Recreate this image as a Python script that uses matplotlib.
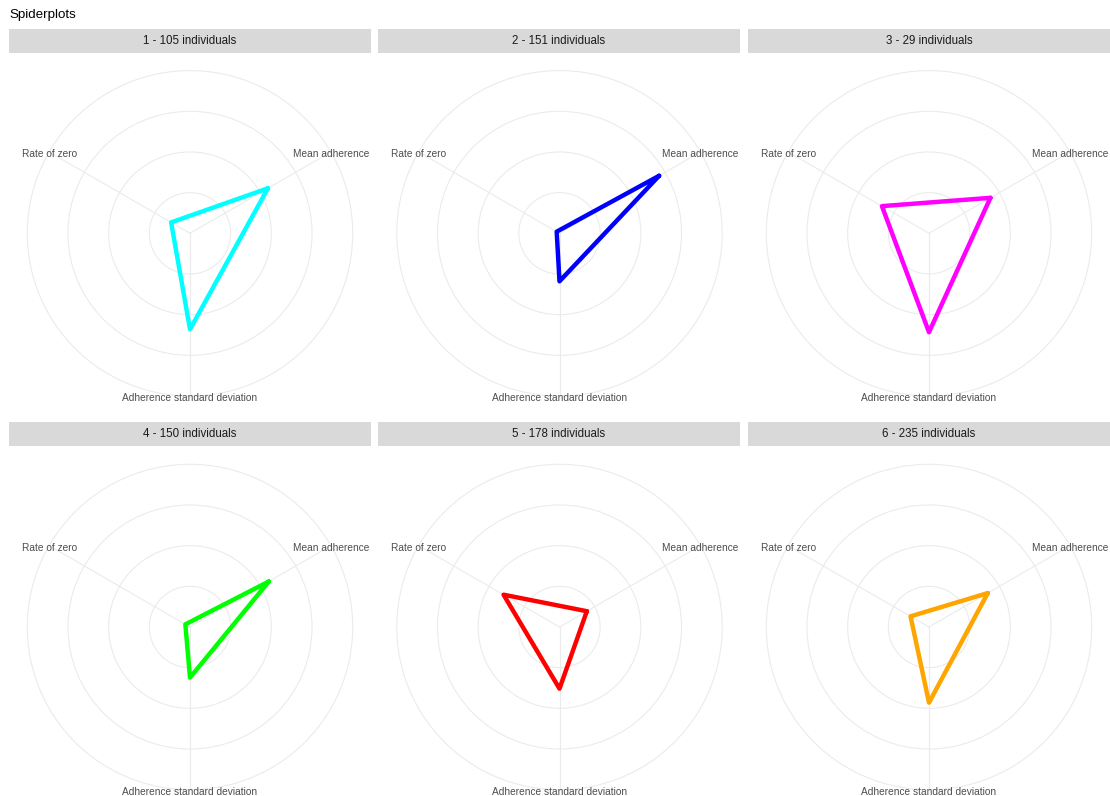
import numpy as np
import matplotlib
matplotlib.use('Agg')
import matplotlib.pyplot as plt
from matplotlib.patches import Rectangle, Circle

plt.rcParams['font.family'] = ['Liberation Sans', 'DejaVu Sans']

# cluster data (radial values as fraction of outer ring)
clusters = ['1', '2', '3', '4', '5', '6']
n_individuals = [105, 151, 29, 150, 178, 235]
variables = ['Mean adherence', 'Rate of zero', 'Adherence standard deviation']
mean_adherence = [0.553, 0.707, 0.436, 0.559, 0.194, 0.417]
rate_of_zero = [0.134, 0.020, 0.334, 0.033, 0.397, 0.131]
adherence_sd = [0.590, 0.295, 0.608, 0.311, 0.379, 0.465]
colors = ['#00FFFF', '#0000FF', '#FF00FF', '#00FF00', '#FF0000', '#FFA500']
rings = [0.25, 0.5, 0.75, 1.0]

W, H = 1110, 796
fig = plt.figure(figsize=(W / 100, H / 100), dpi=100)

angles = np.deg2rad([30, 150, 270])
R = 162.7  # px for outer ring

strip_x = [9, 378, 748]
strip_w = 362
strip_top = [29, 422]
strip_h = 23.5
centers_x = [190, 559.5, 929]
centers_y = [233.3, 627.0]


def fx(px):
    return px / W


def fy(py):
    return 1 - py / H


fig.text(fx(9), fy(15), 'Spiderplots', fontsize=9.6, color='black', ha='left', va='center')

for k in range(6):
    row, col = divmod(k, 3)
    x0 = strip_x[col]
    y0 = strip_top[row]

    # facet strip
    fig.add_artist(Rectangle((fx(x0), fy(y0 + strip_h)), strip_w / W, strip_h / H,
                             transform=fig.transFigure, facecolor='#D9D9D9', edgecolor='none'))
    fig.text(fx(x0 + strip_w / 2), fy(y0 + strip_h / 2 + 0.5),
             f'{clusters[k]} - {n_individuals[k]} individuals',
             fontsize=8.3, color='#1A1A1A', ha='center', va='center')

    # panel axes
    top = y0 + strip_h
    bottom = top + 358
    cx, cy = centers_x[col], centers_y[row]
    ax = fig.add_axes([fx(x0), fy(bottom), strip_w / W, (bottom - top) / H])
    ax.set_xlim((x0 - cx) / R, (x0 + strip_w - cx) / R)
    ax.set_ylim(-(bottom - cy) / R, (cy - top) / R)
    ax.axis('off')

    for r in rings:
        ax.add_patch(Circle((0, 0), r, fill=False, edgecolor='#EBEBEB', lw=0.8))
    for a in angles:
        ax.plot([0, np.cos(a)], [0, np.sin(a)], color='#EBEBEB', lw=0.8)

    vals = np.array([mean_adherence[k], rate_of_zero[k], adherence_sd[k]])
    xs = vals * np.cos(angles)
    ys = vals * np.sin(angles)
    ax.plot(np.append(xs, xs[0]), np.append(ys, ys[0]), color=colors[k], lw=3.2,
            solid_joinstyle='round', solid_capstyle='round')

    # axis labels sit on the outer ring, nudged slightly down
    for a, name in zip(angles, variables):
        ax.text(np.cos(a), np.sin(a) - 2.0 / R, name, fontsize=7.3, color='#4D4D4D',
                ha='center', va='center', clip_on=False)

fig.savefig('out.png', dpi=100, facecolor='white')
